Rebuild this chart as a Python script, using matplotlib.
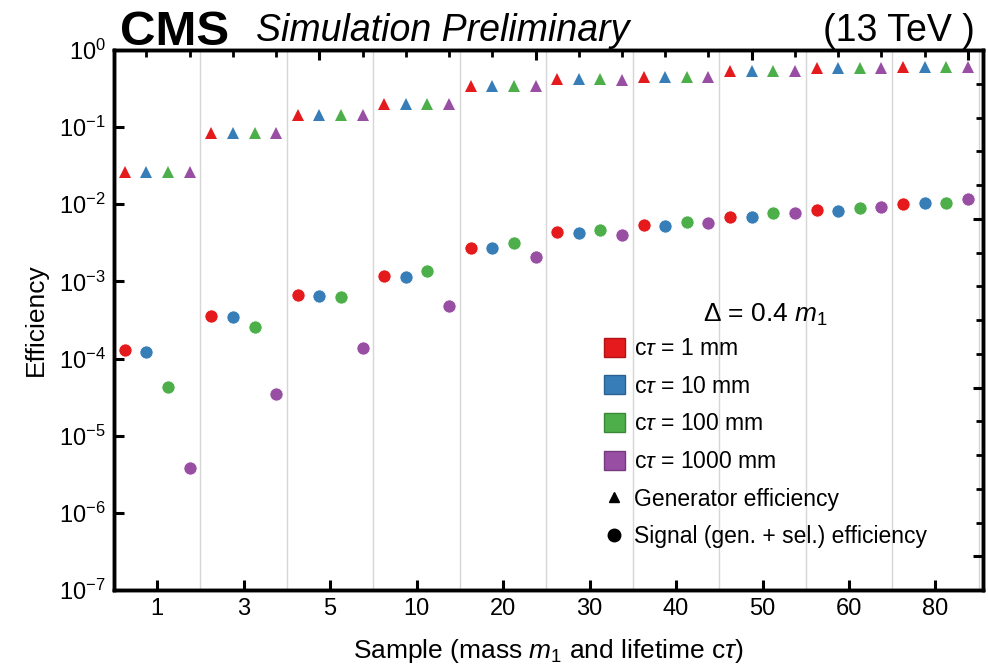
import numpy as np
import matplotlib
matplotlib.use("Agg")
import matplotlib.pyplot as plt
from matplotlib.patches import Patch
from matplotlib.lines import Line2D
from matplotlib.ticker import FixedLocator, NullLocator, LogLocator

plt.rcParams['font.family'] = ['Liberation Sans', 'DejaVu Sans']
plt.rcParams['mathtext.fontset'] = 'custom'
plt.rcParams['mathtext.rm'] = 'Liberation Sans'
plt.rcParams['mathtext.it'] = 'Liberation Sans:italic'
plt.rcParams['mathtext.bf'] = 'Liberation Sans:bold'

# mass points (GeV) and lifetimes (mm)
masses = [1, 3, 5, 10, 20, 30, 40, 50, 60, 80]
lifetimes = [1, 10, 100, 1000]
colors = ['#e41a1c', '#377eb8', '#4daf4a', '#984ea3']
edge_colors = ['#b01416', '#2a6190', '#3b873a', '#76397f']

# generator efficiency, one list per lifetime (index = mass)
gen_1mm    = [0.026, 0.085, 0.142, 0.198, 0.338, 0.42, 0.45, 0.53, 0.58, 0.60]
gen_10mm   = [0.026, 0.085, 0.142, 0.198, 0.338, 0.42, 0.45, 0.53, 0.58, 0.60]
gen_100mm  = [0.026, 0.085, 0.142, 0.198, 0.338, 0.42, 0.45, 0.53, 0.58, 0.60]
gen_1000mm = [0.026, 0.085, 0.142, 0.198, 0.338, 0.41, 0.45, 0.53, 0.58, 0.60]

# signal (gen. + sel.) efficiency
sig_1mm    = [1.29e-4, 3.56e-4, 6.7e-4, 1.19e-3, 2.69e-3, 4.37e-3, 5.39e-3, 6.84e-3, 8.43e-3, 1.01e-2]
sig_10mm   = [1.22e-4, 3.46e-4, 6.5e-4, 1.14e-3, 2.70e-3, 4.28e-3, 5.22e-3, 6.80e-3, 8.18e-3, 1.04e-2]
sig_100mm  = [4.3e-5, 2.56e-4, 6.3e-4, 1.36e-3, 3.15e-3, 4.64e-3, 5.89e-3, 7.71e-3, 8.95e-3, 1.04e-2]
sig_1000mm = [3.85e-6, 3.47e-5, 1.37e-4, 4.8e-4, 2.07e-3, 4.0e-3, 5.66e-3, 7.7e-3, 9.31e-3, 1.17e-2]

gen = [gen_1mm, gen_10mm, gen_100mm, gen_1000mm]
sig = [sig_1mm, sig_10mm, sig_100mm, sig_1000mm]

nm = len(masses)
nl = len(lifetimes)

fig = plt.figure(figsize=(9.88, 6.71), dpi=100)
ax = fig.add_axes([114 / 988, 1 - 590 / 671, (983 - 114) / 988, 540 / 671])

# group separators
for b in np.arange(nl + 0.5, nm * nl, nl):
    ax.axvline(b, color='#d6d6d6', lw=1, zorder=0)
ax.axvline(nm * nl + 0.5, color='#d6d6d6', lw=1, zorder=0)

for j in range(nl):
    x = np.arange(nm) * nl + j + 1
    ax.plot(x, gen[j], ls='none', marker='^', ms=8, color=colors[j], mew=0, zorder=3)
    ax.plot(x, sig[j], ls='none', marker='o', ms=9.5, color=colors[j],
            mec='white', mew=0.6, zorder=3)

ax.set_yscale('log')
ax.set_ylim(1e-7, 1)
ax.set_xlim(0.5, 40.7)

centers = np.arange(nm) * nl + (nl + 1) / 2
ax.xaxis.set_major_locator(FixedLocator(centers))
ax.set_xticklabels([str(m) for m in masses])
ax.yaxis.set_major_locator(LogLocator(base=10, numticks=10))
ax.yaxis.set_minor_locator(NullLocator())

ax.tick_params(axis='both', which='major', direction='in', length=7.5, width=2.2,
               labelsize=17, pad=6)
ax.tick_params(axis='x', pad=6)

for sp in ax.spines.values():
    sp.set_linewidth(2.4)

# top frame ticks
ax_top = ax.twiny()
ax_top.set_xlim(ax.get_xlim())
ax_top.xaxis.set_major_locator(FixedLocator([10, 20, 30, 40]))
ax_top.xaxis.set_minor_locator(FixedLocator(np.arange(2, 41, 2)))
ax_top.tick_params(axis='x', which='major', direction='in', length=7.5, width=2.2,
                   labeltop=False)
ax_top.tick_params(axis='x', which='minor', direction='in', length=5, width=2.0)

# right frame ticks
ax_right = ax.twinx()
ax_right.set_ylim(0, 16)
ax_right.yaxis.set_major_locator(FixedLocator([1, 6, 11, 16]))
ax_right.yaxis.set_minor_locator(FixedLocator(np.arange(0, 17, 1)))
ax_right.tick_params(axis='y', which='major', direction='in', length=7.5, width=2.2,
                     labelright=False)
ax_right.tick_params(axis='y', which='minor', direction='in', length=5, width=2.0)
for a in (ax_top, ax_right):
    for sp in a.spines.values():
        sp.set_linewidth(2.4)

ax.set_ylabel('Efficiency', fontsize=19, labelpad=8)
ax.set_xlabel(r'Sample (mass $m_1$ and lifetime c$\tau$)', fontsize=19, labelpad=12)

# header
fig.text(120 / 988, 1 - 45 / 671, 'CMS', fontsize=35.5, fontweight='bold', ha='left', va='baseline')
fig.text(256 / 988, 1 - 41 / 671, 'Simulation Preliminary', fontsize=27, style='italic',
         ha='left', va='baseline')
fig.text(975 / 988, 1 - 41 / 671, '(13 TeV )', fontsize=27, ha='right', va='baseline')

# legend
fig.text(766 / 988, 1 - 322 / 671, r'$\Delta$ = 0.4 $m_1$', fontsize=19, ha='center',
         va='baseline')
handles = [Patch(facecolor=colors[j], edgecolor=edge_colors[j], lw=1) for j in range(nl)]
handles += [Line2D([], [], ls='none', marker='^', color='k', ms=7),
            Line2D([], [], ls='none', marker='o', color='k', ms=9)]
labels = [r'c$\tau$ = %d mm' % lt for lt in lifetimes]
labels += ['Generator efficiency', 'Signal (gen. + sel.) efficiency']
leg = ax.legend(handles, labels, loc='upper left',
                bbox_to_anchor=(604 / 988, 1 - 337 / 671), bbox_transform=fig.transFigure,
                frameon=False, fontsize=16.5, handlelength=0.9, handleheight=0.9,
                handletextpad=0.4, labelspacing=0.64, borderpad=0, borderaxespad=0)
leg.set_zorder(5)

fig.savefig('out.png', dpi=100)
